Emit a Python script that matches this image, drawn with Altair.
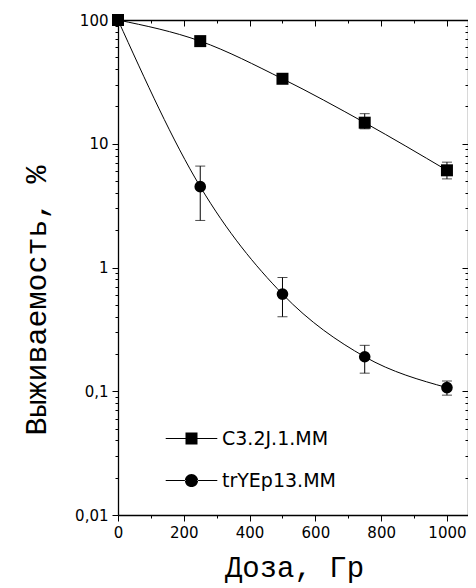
import altair as alt
import pandas as pd

# ---- data ----
doses = [0, 250, 500, 750, 1000]
series_names = ["C3.2J.1.MM", "trYEp13.MM"]
a_surv = [100, 67.5, 33.5, 14.8, 6.1]
a_lo = [100, 64, 31.8, 13.2, 5.2]
a_hi = [100, 71, 35.3, 17.5, 7.1]
b_surv = [100, 4.5, 0.61, 0.19, 0.107]
b_lo = [100, 2.4, 0.40, 0.14, 0.093]
b_hi = [100, 6.6, 0.83, 0.235, 0.121]

x_ticks = [0, 100, 200, 300, 400, 500, 600, 700, 800, 900, 1000]
x_major = [0, 200, 400, 600, 800, 1000]
y_major = [0.01, 0.1, 1, 10, 100]
y_major_labels = ["0,01", "0,1", "1", "10", "100"]
y_ticks = [round(m * d, 4) for d in [0.01, 0.1, 1, 10] for m in range(1, 10)] + [100]

x_title = "Доза, Гр"
y_title = "Выживаемость, %"

# ---- table ----
rows = []
for name, s, lo, hi in [(series_names[0], a_surv, a_lo, a_hi), (series_names[1], b_surv, b_lo, b_hi)]:
    for d, v, l, h in zip(doses, s, lo, hi):
        rows.append({"dose": d, "surv": v, "lo": l, "hi": h, "series": name})
df = pd.DataFrame(rows)
err_df = df[df["dose"] > 0]

W, H = 350, 495
xscale = alt.Scale(domain=[0, 1064], nice=False, zero=False)
yscale = alt.Scale(type="log", domain=[0.01, 100], nice=False)

x_major_test = "indexof(" + str(x_major) + ", datum.value) >= 0"
y_major_test = "indexof(" + str(y_major) + ", datum.value) >= 0"
y_label_expr = " : ".join(
    f"datum.value == {v} ? '{t}'" for v, t in zip(y_major, y_major_labels)
) + " : ''"

axis_common = dict(grid=False, domainColor="black", domainWidth=1.3, tickColor="black",
                   tickWidth=1, labelFont="DejaVu Sans", labelFontSize=15, labelColor="black")

x_main_axis = alt.Axis(
    values=x_ticks, orient="bottom", format="d",
    tickSize={"condition": {"test": x_major_test, "value": 6}, "value": 3},
    labelExpr="indexof(" + str(x_major) + ", datum.value) >= 0 ? datum.label : ''",
    labelPadding=4, labelFlush=False,
    title=x_title, titleFont="Liberation Mono", titleFontSize=29, titleFontWeight="normal",
    titleColor="black", titleX=176, titleY=61, titleBaseline="alphabetic", titleAnchor="middle",
    **axis_common)
y_main_axis = alt.Axis(
    values=y_ticks, orient="left",
    tickSize={"condition": {"test": y_major_test, "value": 6}, "value": 3},
    labelExpr=y_label_expr, labelPadding=4, labelFlush=False,
    title=y_title, titleFont="Liberation Mono", titleFontSize=30, titleFontWeight="normal",
    titleColor="black", titleX=-82, titleY=280, titleAngle=270, titleBaseline="middle",
    titleAlign="center",
    **axis_common)
x_top_axis = alt.Axis(
    values=x_ticks, orient="bottom", offset=-H, labels=False, title=None,
    tickSize={"condition": {"test": x_major_test, "value": 6}, "value": 3},
    **axis_common)
y_right_axis = alt.Axis(
    values=y_ticks, orient="left", offset=-W, labels=False, title=None,
    tickSize={"condition": {"test": y_major_test, "value": 6}, "value": 3},
    **axis_common)

base = alt.Chart(df)

lines = base.mark_line(color="black", strokeWidth=1, interpolate="monotone").encode(
    x=alt.X("dose:Q", scale=xscale, axis=x_main_axis),
    y=alt.Y("surv:Q", scale=yscale, axis=y_main_axis),
    detail="series:N",
)

errs = alt.Chart(err_df).mark_errorbar(ticks={"size": 10}, color="black", thickness=1).encode(
    x=alt.X("dose:Q", scale=xscale, axis=None),
    y=alt.Y("lo:Q", scale=yscale, axis=None),
    y2="hi:Q",
)

points = base.mark_point(filled=True, opacity=1, color="black").encode(
    x=alt.X("dose:Q", scale=xscale, axis=None),
    y=alt.Y("surv:Q", scale=yscale, axis=None),
    shape=alt.Shape("series:N", scale=alt.Scale(domain=series_names, range=["square", "circle"]), legend=None),
    size=alt.Size("series:N", scale=alt.Scale(domain=series_names, range=[144, 135]), legend=None),
)

frame = base.mark_point(opacity=0).encode(
    x=alt.X("dose:Q", scale=xscale, axis=x_top_axis),
    y=alt.Y("surv:Q", scale=yscale, axis=y_right_axis),
)

# legend symbols: short line - marker - short line (line parts as thin filled bars)
bar_l = "M-4.3,-0.09H-1V0.09H-4.3Z"
bar_r = "M1,-0.09H4.3V0.09H1Z"
sq_path = bar_l + bar_r + "M-1,-1H1V1H-1Z"
ci_path = bar_l + bar_r + "M-1.1,0A1.1,1.1,0,1,0,1.1,0A1.1,1.1,0,1,0,-1.1,0Z"

legend_layer = base.transform_filter("false").mark_point(
    filled=True, color="black", opacity=1
).encode(
    shape=alt.Shape("series:N", scale=alt.Scale(domain=series_names, range=[sq_path, ci_path]),
                    legend=alt.Legend(orient="none", legendX=64, legendY=409, title=None,
                                      symbolSize=144, labelFont="DejaVu Sans", labelFontSize=19,
                                      labelColor="black", labelOffset=21, rowPadding=21,
                                      padding=0, symbolOpacity=1, labelLimit=0,
                                      symbolFillColor="black")),
)

chart = alt.layer(lines, errs, points, frame, legend_layer).resolve_scale(
    shape="independent"
).resolve_axis(
    x="independent", y="independent"
).properties(
    width=W, height=H,
    autosize=alt.AutoSizeParams(type="none"),
    padding={"left": 110, "top": 12, "right": 0, "bottom": 71},
    background="white",
).configure_view(stroke=None)

chart.save("out.html", embed_options={"renderer": "svg", "actions": False})
